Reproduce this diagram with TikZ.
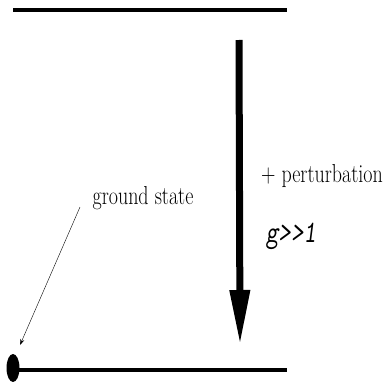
\documentclass[tikz,border=0pt]{standalone}
\usepackage{tikz}
\usetikzlibrary{arrows.meta,shapes.geometric,positioning}

\begin{document}
\begin{tikzpicture}[
    x=1pt, y=1pt,
    level/.style={draw=black, line width=3.2pt},
    perturb/.style={draw=black, line width=7pt, -{Triangle[length=55pt, width=19pt]}},
    pointer/.style={draw=black, thin, -{Stealth[length=6pt, width=4pt]}},
    dot/.style={ellipse, fill=black, inner sep=0pt, minimum width=13pt, minimum height=28pt},
    label/.style={font=\fontsize{20}{23}\selectfont, inner sep=0pt},
    coupling/.style={font=\fontsize{24}{27}\ttfamily\slshape, inner sep=0pt}
]
    \useasboundingbox (0,0) rectangle (387,381);

    % Levels
    \coordinate (topL) at (13,371);
    \coordinate (topR) at (287,371);
    \coordinate (botL) at (13,11);
    \coordinate (botR) at (287,11);
    \draw [level] (topL) -- (topR);
    \draw [level] (botL) -- (botR);

    % Ground state
    \node[dot] (gs) at (13,13) {};
    \node[label] (gslabel) at (143,183) {\scalebox{1}[1.3]{ground state}};
    \coordinate (gsfrom) at (80,174);
    \coordinate (gstip) at (20,36);
    \draw [pointer] (gsfrom) -- (gstip);

    % Perturbation
    \coordinate (pfrom) at (239,341);
    \coordinate (pto) at (240,36);
    \draw [perturb] (pfrom) -- (pto);
    \node[label] (plabel) at (322,205) {\scalebox{1}[1.3]{+ perturbation}};
    \node[coupling] (glabel) at (291,145) {\scalebox{1}[1.3]{g>>1}};
\end{tikzpicture}
\end{document}
